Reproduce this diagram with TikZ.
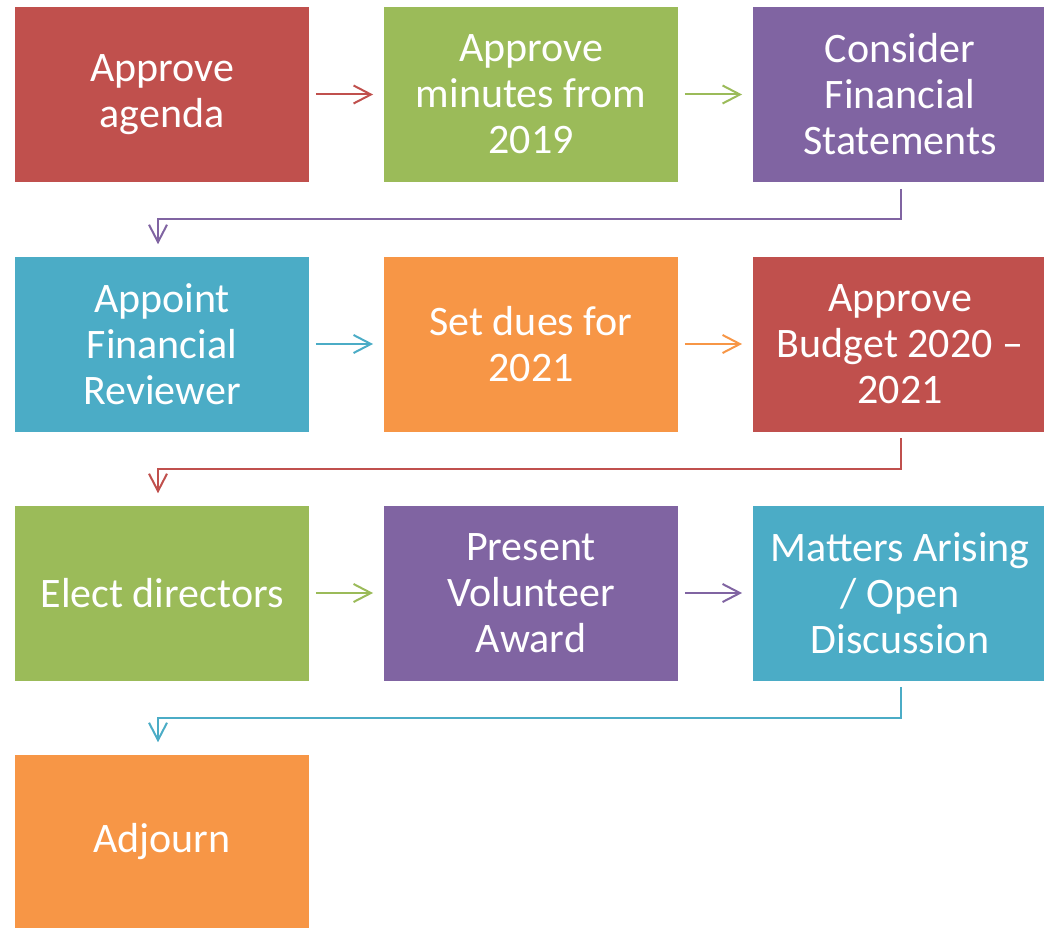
\documentclass[tikz,border=0pt]{standalone}
\usepackage{fontspec}
\setmainfont{Carlito}
\usetikzlibrary{arrows.meta}

\definecolor{cRed}{RGB}{192,80,77}
\definecolor{cGreen}{RGB}{155,187,89}
\definecolor{cPurple}{RGB}{128,100,162}
\definecolor{cCyan}{RGB}{75,172,198}
\definecolor{cOrange}{RGB}{247,150,70}

\begin{document}
\begin{tikzpicture}[x=0.75pt,y=0.75pt,yscale=-1,xscale=1,
  stepbox/.style={rectangle, fill=#1, draw=none, minimum width=220.5pt, minimum height=131.25pt,
    inner sep=0pt, align=center, text=white, font=\fontsize{31.5}{34.5}\selectfont},
  link/.style={draw=#1, line width=1.5pt, -{Straight Barb[length=13pt,width=13.5pt,line width=1.5pt]}},
  hlink/.style={link=#1, shorten <=5pt, shorten >=8pt},
  vlink/.style={link=#1, shorten <=5pt, shorten >=9pt, rounded corners=0pt}]
\useasboundingbox (0,0) rectangle (1044,927);

%Shape: Rectangles, row 1
\node[stepbox=cRed] (agenda) at (162,94.5) {Approve\\agenda};
\node[stepbox=cGreen] (minutes) at (531,94.5) {Approve\\minutes from\\2019};
\node[stepbox=cPurple] (statements) at (900,94.5) {Consider\\Financial\\Statements};
%Shape: Rectangles, row 2
\node[stepbox=cCyan] (reviewer) at (162,344) {Appoint\\Financial\\Reviewer};
\node[stepbox=cOrange] (dues) at (531,344) {Set dues for\\2021};
\node[stepbox=cRed] (budget) at (900,344) {Approve\\Budget 2020 --\\2021};
%Shape: Rectangles, row 3
\node[stepbox=cGreen] (directors) at (162,593) {Elect directors};
\node[stepbox=cPurple] (award) at (531,593) {Present\\Volunteer\\Award};
\node[stepbox=cCyan] (matters) at (900,593) {Matters Arising\\/ Open\\Discussion};
%Shape: Rectangle, row 4
\node[stepbox=cOrange] (adjourn) at (162,842) {Adjourn};

%Straight Lines
\draw[hlink=cRed] (agenda) -- (minutes);
\draw[hlink=cGreen] (minutes) -- (statements);
\draw[hlink=cCyan] (reviewer) -- (dues);
\draw[hlink=cOrange] (dues) -- (budget);
\draw[hlink=cGreen] (directors) -- (award);
\draw[hlink=cPurple] (award) -- (matters);

%Elbow Lines
\draw[vlink=cPurple] ([xshift=1pt]statements.south) -- ++(0,37) -| ([xshift=-3pt]reviewer.north);
\draw[vlink=cRed] ([xshift=1pt]budget.south) -- ++(0,37) -| ([xshift=-3pt]directors.north);
\draw[vlink=cCyan] ([xshift=1pt]matters.south) -- ++(0,37) -| ([xshift=-3pt]adjourn.north);

\end{tikzpicture}
\end{document}
